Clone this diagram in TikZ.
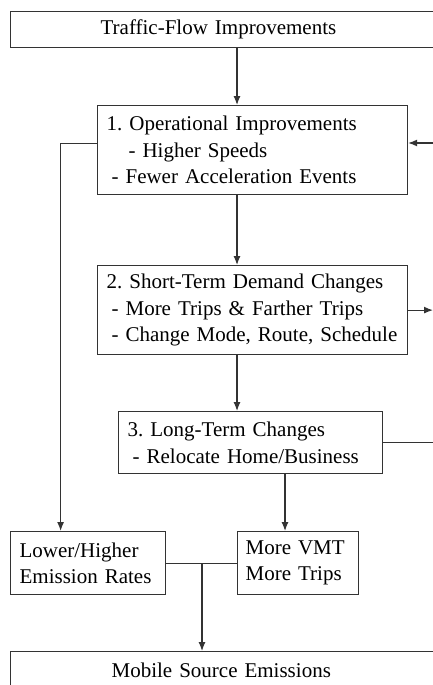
\documentclass[tikz,border=0pt]{standalone}
\usepackage{fontspec}
\setmainfont{Liberation Serif}
\usetikzlibrary{arrows.meta}

\begin{document}
\frenchspacing
\begin{tikzpicture}[x=1pt,y=-1pt,
    font=\fontsize{21}{26.5}\selectfont,
    box/.style={draw=black!80, line width=1.2pt, rectangle, anchor=north west, align=left, inner xsep=5pt, inner ysep=0pt},
    arr/.style={draw=black!80, line width=1.2pt, -{Latex[length=9pt,width=7pt]}},
    ln/.style={draw=black!80, line width=1.2pt}]

% Page
\useasboundingbox (0,0) rectangle (433,685);
\clip (0,0) rectangle (433,685);

% Columns for the connectors
\coordinate (spine) at (237,0);
\coordinate (c3) at (285,0);
\coordinate (j) at (202,0);
\coordinate (edge) at (433,0);
\coordinate (far) at (445,0);
\coordinate (in1) at (445,143);

% Boxes
\node[box, minimum width=460pt, minimum height=36pt, inner xsep=90pt, text width=280pt] (top) at (10,11) {Traffic-Flow Improvements};
\node[box, minimum width=310pt, minimum height=89pt, text width=300pt] (box1) at (97,105)
  {\hspace*{4pt}1. Operational Improvements\\\hspace*{26pt}- Higher Speeds\\\hspace*{9pt}- Fewer Acceleration Events};
\node[box, minimum width=310pt, minimum height=89pt, text width=300pt] (box2) at (97,265)
  {\hspace*{4pt}2. Short-Term Demand Changes\\\hspace*{9pt}- More Trips \& Farther Trips\\\hspace*{9pt}- Change Mode, Route, Schedule};
\node[box, minimum width=264pt, minimum height=62pt, text width=254pt] (box3) at (118,411)
  {\hspace*{4pt}3. Long-Term Changes\\\hspace*{9pt}- Relocate Home/Business};
\node[box, minimum width=155pt, minimum height=63pt, text width=145pt] (lower) at (10,531)
  {\hspace*{4pt}Lower/Higher\\\hspace*{4pt}Emission Rates};
\node[box, minimum width=121pt, minimum height=63pt, text width=111pt] (vmt) at (237,531)
  {\hspace*{3pt}More VMT\\\hspace*{3pt}More Trips};
\node[box, minimum width=460pt, minimum height=38pt, inner xsep=101pt, text width=258pt] (bottom) at (10,651) {Mobile Source Emissions};

% Main chain
\draw[arr] (top.south -| spine) -- (box1.north -| spine);
\draw[arr] (box1.south -| spine) -- (box2.north -| spine);
\draw[arr] (box2.south -| spine) -- (box3.north -| spine);
\draw[arr] (box3.south -| c3) -- (vmt.north -| c3);

% Rate branch
\draw[arr] ([yshift=6.5pt]box1.west) -| ([xshift=-27.5pt]lower.north);

% Side lines to the right
\draw[arr] (in1) -- (in1 -| box1.east);
\draw[arr] (box2.east) -- (box2.east -| edge);
\draw[ln] (box3.east) -- (box3.east -| far);

% Join into emissions
\draw[ln] (lower.east) -- (vmt.west);
\draw[arr] (lower.east -| j) -- (bottom.north -| j);

\end{tikzpicture}
\end{document}
